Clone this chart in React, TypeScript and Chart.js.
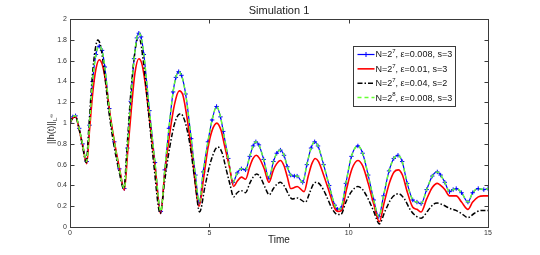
import React, { useEffect, useRef } from 'react';
import { Chart, registerables } from 'chart.js';

Chart.register(...registerables);

// ---- data ----
const tB = [0.00, 0.10, 0.20, 0.33, 0.45, 0.60, 0.70, 0.81, 0.93, 1.05, 1.15, 1.25, 1.41, 1.59, 1.77, 1.95,
  2.06, 2.18, 2.30, 2.40, 2.47, 2.55, 2.65, 2.85, 3.05, 3.26, 3.40, 3.55, 3.70, 3.80, 3.90, 4.00, 4.15, 4.35,
  4.50, 4.64, 4.78, 4.95, 5.10, 5.26, 5.40, 5.50, 5.68, 5.85, 6.00, 6.15, 6.30, 6.45, 6.57, 6.67, 6.78, 6.95,
  7.14, 7.30, 7.42, 7.55, 7.68, 7.80, 7.92, 8.05, 8.15, 8.35, 8.50, 8.65, 8.78, 8.90, 9.10, 9.30, 9.50, 9.60,
  9.72, 9.90, 10.10, 10.33, 10.50, 10.70, 10.90, 11.08, 11.25, 11.45, 11.62, 11.77, 11.92, 12.10, 12.30, 12.45,
  12.60, 12.80, 13.00, 13.18, 13.30, 13.45, 13.62, 13.75, 13.86, 14.05, 14.28, 14.45, 14.65, 14.85, 15.00];
const vB = [1.00, 1.06, 1.07, 0.95, 0.80, 0.63, 0.98, 1.40, 1.66, 1.74, 1.70, 1.54, 1.14, 0.82, 0.56, 0.37,
  0.76, 1.21, 1.62, 1.82, 1.865, 1.83, 1.66, 1.12, 0.62, 0.15, 0.55, 0.95, 1.30, 1.44, 1.495, 1.46, 1.28, 0.85,
  0.50, 0.24, 0.53, 0.82, 1.03, 1.16, 1.06, 0.92, 0.66, 0.43, 0.52, 0.56, 0.55, 0.68, 0.78, 0.82, 0.79, 0.65,
  0.47, 0.63, 0.71, 0.74, 0.69, 0.58, 0.50, 0.49, 0.49, 0.43, 0.60, 0.76, 0.82, 0.78, 0.60, 0.40, 0.21, 0.17,
  0.18, 0.42, 0.68, 0.78, 0.71, 0.50, 0.26, 0.10, 0.30, 0.54, 0.66, 0.69, 0.63, 0.42, 0.26, 0.24,
  0.225, 0.36, 0.49, 0.53, 0.50, 0.43, 0.34, 0.36, 0.37, 0.33, 0.24, 0.33, 0.37, 0.36, 0.37];

const tR = [0.00, 0.10, 0.20, 0.33, 0.45, 0.60, 0.70, 0.82, 0.93, 1.05, 1.15, 1.28, 1.45, 1.62, 1.78, 1.95,
  2.07, 2.20, 2.33, 2.47, 2.58, 2.70, 2.88, 3.06, 3.25, 3.40, 3.58, 3.75, 3.92, 4.05, 4.20, 4.40, 4.63,
  4.80, 4.95, 5.10, 5.27, 5.42, 5.55, 5.72, 5.87, 6.00, 6.15, 6.30, 6.45, 6.57, 6.68, 6.80, 6.97, 7.14,
  7.30, 7.42, 7.55, 7.68, 7.80, 7.92, 8.05, 8.15, 8.40, 8.55, 8.68, 8.80, 8.92, 9.10, 9.30, 9.50, 9.62,
  9.75, 9.92, 10.12, 10.33, 10.50, 10.70, 10.90, 11.10, 11.27, 11.47, 11.63, 11.78, 11.93, 12.10, 12.30,
  12.45, 12.60, 12.80, 13.00, 13.18, 13.30, 13.45, 13.62, 13.75, 13.86, 14.05, 14.28, 14.45, 14.65, 14.85, 15.00];
const vR = [1.00, 1.05, 1.06, 0.94, 0.79, 0.61, 0.93, 1.30, 1.52, 1.61, 1.57, 1.40, 1.06, 0.78, 0.56, 0.355,
  0.72, 1.13, 1.48, 1.62, 1.57, 1.38, 0.98, 0.56, 0.13, 0.52, 0.90, 1.18, 1.31, 1.27, 1.05, 0.65, 0.20,
  0.48, 0.76, 0.93, 1.00, 0.93, 0.78, 0.58, 0.39, 0.44, 0.48, 0.46, 0.58, 0.66, 0.69, 0.66, 0.56, 0.43,
  0.55, 0.61, 0.64, 0.59, 0.48, 0.37, 0.38, 0.39, 0.34, 0.49, 0.61, 0.66, 0.63, 0.50, 0.34, 0.18, 0.15,
  0.16, 0.36, 0.56, 0.64, 0.59, 0.42, 0.22, 0.05, 0.23, 0.43, 0.53, 0.55, 0.50, 0.34, 0.19,
  0.17, 0.145, 0.27, 0.38, 0.42, 0.40, 0.36, 0.30, 0.30, 0.30, 0.24, 0.17, 0.24, 0.29, 0.30, 0.30];

const tK = [0.00, 0.10, 0.20, 0.33, 0.45, 0.58, 0.68, 0.80, 0.90, 1.00, 1.10, 1.22, 1.40, 1.58, 1.75, 1.93,
  2.05, 2.17, 2.30, 2.42, 2.50, 2.62, 2.80, 3.00, 3.24, 3.40, 3.58, 3.78, 3.97, 4.12, 4.30, 4.48, 4.65,
  4.85, 5.05, 5.30, 5.45, 5.60, 5.75, 5.87, 6.00, 6.15, 6.30, 6.45, 6.57, 6.70, 6.85, 7.00, 7.15, 7.30,
  7.42, 7.55, 7.70, 7.85, 7.97, 8.15, 8.45, 8.60, 8.75, 8.85, 9.00, 9.20, 9.40, 9.60, 9.72, 9.90, 10.10,
  10.33, 10.50, 10.70, 10.90, 11.10, 11.30, 11.55, 11.80, 12.00, 12.20, 12.35, 12.60, 12.85, 13.05, 13.18,
  13.40, 13.62, 13.85, 14.05, 14.28, 14.50, 14.75, 15.00];
const vK = [1.00, 1.05, 1.06, 0.94, 0.78, 0.62, 0.98, 1.45, 1.70, 1.80, 1.74, 1.52, 1.10, 0.78, 0.55, 0.37,
  0.78, 1.25, 1.62, 1.80, 1.80, 1.62, 1.15, 0.62, 0.13, 0.45, 0.77, 1.02, 1.09, 1.02, 0.80, 0.45, 0.145,
  0.40, 0.63, 0.77, 0.72, 0.56, 0.40, 0.29, 0.33, 0.35, 0.33, 0.42, 0.48, 0.51, 0.47, 0.38, 0.31, 0.37,
  0.41, 0.43, 0.39, 0.31, 0.27, 0.28, 0.24, 0.33, 0.42, 0.43, 0.40, 0.30, 0.18, 0.12, 0.12, 0.24, 0.34,
  0.39, 0.36, 0.27, 0.15, 0.03, 0.15, 0.28, 0.32, 0.27, 0.17, 0.12, 0.085, 0.16, 0.22, 0.23,
  0.21, 0.18, 0.16, 0.13, 0.09, 0.13, 0.16, 0.16];

// N=2^8 run coincides with the blue run in the picture
const tG = tB;
const vG = vB;

const labelBase = ['N=2', 'N=2', 'N=2', 'N=2'];
const labelExp = ['7', '7', '7', '8'];
const labelRest = [', \u03b5=0.008, s=3', ', \u03b5=0.01, s=3', ', \u03b5=0.04, s=2', ', \u03b5=0.008, s=3'];
const supChar: Record<string, string> = { '7': '\u2077', '8': '\u2078' };

const xTicksStep = 5;
const yTicksStep = 0.2;
const titleText = 'Simulation 1';
const xTitle = 'Time';

const FONT = "'Liberation Sans', Arial, Helvetica, sans-serif";
const COLORS = ['#0000ff', '#ff0000', '#000000', '#66ff33'];
const DASHES: number[][] = [[], [], [5, 2, 1.5, 2], [4, 3]];

const pts = (t: number[], v: number[]) => t.map((x, i) => ({ x, y: v[i] }));

const decorPlugin = {
  id: 'matlabDecor',
  afterDatasetsDraw(chart: any) {
    const { ctx, chartArea: a, scales } = chart;
    ctx.save();
    ctx.strokeStyle = '#3a3a3a';
    ctx.lineWidth = 1;
    const L = Math.round(a.left) + 0.5, R = Math.round(a.right) + 0.5;
    const T = Math.round(a.top) + 0.5, B = Math.round(a.bottom) + 0.5;
    ctx.strokeRect(L, T, R - L, B - T);
    const tl = 4;
    ctx.beginPath();
    scales.y.ticks.forEach((t: any) => {
      const y = Math.round(scales.y.getPixelForValue(t.value)) + 0.5;
      ctx.moveTo(L, y); ctx.lineTo(L + tl, y);
      ctx.moveTo(R, y); ctx.lineTo(R - tl, y);
    });
    scales.x.ticks.forEach((t: any) => {
      const x = Math.round(scales.x.getPixelForValue(t.value)) + 0.5;
      ctx.moveTo(x, B); ctx.lineTo(x, B - tl);
      ctx.moveTo(x, T); ctx.lineTo(x, T + tl);
    });
    ctx.stroke();
    ctx.restore();
  },
  afterDraw(chart: any) {
    const { ctx, chartArea: a } = chart;
    ctx.save();
    // y-axis title with subscript
    ctx.translate(51, (a.top + a.bottom) / 2 + 6);
    ctx.rotate(-Math.PI / 2);
    ctx.fillStyle = '#222';
    ctx.textBaseline = 'alphabetic';
    const main = '||h(t)||';
    ctx.font = `9px ${FONT}`;
    const wMain = ctx.measureText(main).width;
    ctx.font = `6px ${FONT}`;
    const wSub = ctx.measureText('L').width;
    ctx.font = `5px ${FONT}`;
    const wInf = ctx.measureText('\u221e').width;
    const total = wMain + wSub + wInf;
    let x0 = -total / 2;
    ctx.font = `9px ${FONT}`;
    ctx.fillText(main, x0, 3);
    x0 += wMain;
    ctx.font = `6px ${FONT}`;
    ctx.fillText('L', x0, 6);
    x0 += wSub;
    ctx.font = `5px ${FONT}`;
    ctx.fillText('\u221e', x0, 2);
    ctx.restore();

    // legend box
    ctx.save();
    const bx = Math.round(a.right - 135) + 0.5;
    const by = Math.round(a.top + 27) + 0.5;
    const bw = 102, bh = 60;
    ctx.fillStyle = '#fff';
    ctx.fillRect(bx, by, bw, bh);
    ctx.strokeStyle = '#3a3a3a';
    ctx.lineWidth = 1;
    ctx.strokeRect(bx, by, bw, bh);
    chart.data.datasets.forEach((ds: any) => {
      const i = ds.legendIndex;
      const y = by + 8 + i * 14.35;
      const lx0 = bx + 4, lx1 = bx + 21;
      ctx.save();
      ctx.strokeStyle = ds.borderColor;
      ctx.lineWidth = ds.borderWidth;
      ctx.setLineDash(ds.borderDash || []);
      ctx.beginPath();
      ctx.moveTo(lx0, y); ctx.lineTo(lx1, y);
      ctx.stroke();
      ctx.setLineDash([]);
      if (ds.pointRadius > 0) {
        const cx = (lx0 + lx1) / 2, r = 2.5;
        ctx.lineWidth = 1;
        ctx.beginPath();
        ctx.moveTo(cx - r, y); ctx.lineTo(cx + r, y);
        ctx.moveTo(cx, y - r); ctx.lineTo(cx, y + r);
        ctx.stroke();
      }
      ctx.restore();
      ctx.fillStyle = '#111';
      ctx.textBaseline = 'middle';
      let tx = lx1 + 1;
      ctx.font = `9px ${FONT}`;
      ctx.fillText(labelBase[i], tx, y + 0.5);
      tx += ctx.measureText(labelBase[i]).width;
      ctx.font = `6px ${FONT}`;
      ctx.fillText(labelExp[i], tx, y - 3);
      tx += ctx.measureText(labelExp[i]).width;
      ctx.font = `9px ${FONT}`;
      ctx.fillText(labelRest[i], tx, y + 0.5);
    });
    ctx.restore();
  },
};

export default function App() {
  const ref = useRef<HTMLCanvasElement | null>(null);
  useEffect(() => {
    document.body.style.margin = '0';
    const canvas = ref.current;
    if (!canvas) return;
    const fullLabel = (i: number) => labelBase[i] + supChar[labelExp[i]] + labelRest[i];
    const mk = (i: number, t: number[], v: number[], order: number, width: number, marker: boolean) => ({
      label: fullLabel(i),
      legendIndex: i,
      data: pts(t, v),
      borderColor: COLORS[i],
      backgroundColor: COLORS[i],
      borderWidth: width,
      borderDash: DASHES[i],
      pointRadius: marker ? 2.2 : 0,
      pointStyle: marker ? 'cross' : 'circle',
      pointBorderWidth: 1,
      pointBorderColor: COLORS[i],
      cubicInterpolationMode: 'monotone',
      tension: 0.4,
      fill: false,
      order,
    });
    const chart = new Chart(canvas, {
      type: 'line',
      data: {
        datasets: [
          mk(0, tB, vB, 4, 1.2, true),
          mk(1, tR, vR, 3, 1.6, false),
          mk(2, tK, vK, 2, 1.5, false),
          mk(3, tG, vG, 1, 1.5, false),
        ] as any,
      },
      options: {
        animation: false,
        responsive: true,
        maintainAspectRatio: false,
        layout: { padding: { left: 0, right: 52, top: 0, bottom: 0 } },
        plugins: {
          legend: { display: false },
          tooltip: { enabled: false },
          title: {
            display: true,
            text: titleText,
            fullSize: false,
            color: '#222',
            font: { family: FONT, size: 11, weight: 'normal' },
            padding: { top: 4, bottom: 2 },
          },
        },
        scales: {
          x: {
            type: 'linear',
            min: 0,
            max: 15,
            ticks: { stepSize: xTicksStep, color: '#333', font: { family: FONT, size: 7 }, padding: 2, maxRotation: 0 },
            grid: { display: false, drawTicks: false },
            border: { display: false },
            title: { display: true, text: xTitle, color: '#222', font: { family: FONT, size: 10 }, padding: { top: 0, bottom: 9 } },
            afterFit: (s: any) => { s.height = 28; },
          },
          y: {
            type: 'linear',
            min: 0,
            max: 2,
            ticks: {
              stepSize: yTicksStep,
              color: '#333',
              font: { family: FONT, size: 7 },
              padding: 3,
              callback: (v: any) => String(Number(Number(v).toFixed(1))),
            },
            grid: { display: false, drawTicks: false },
            border: { display: false },
            afterFit: (s: any) => { s.width = 70; },
          },
        },
      } as any,
      plugins: [decorPlugin],
    });
    return () => chart.destroy();
  }, []);
  return (
    <div style={{ position: 'fixed', left: 0, top: 0, width: 540, height: 255, background: '#fff' }}>
      <canvas ref={ref} />
    </div>
  );
}
